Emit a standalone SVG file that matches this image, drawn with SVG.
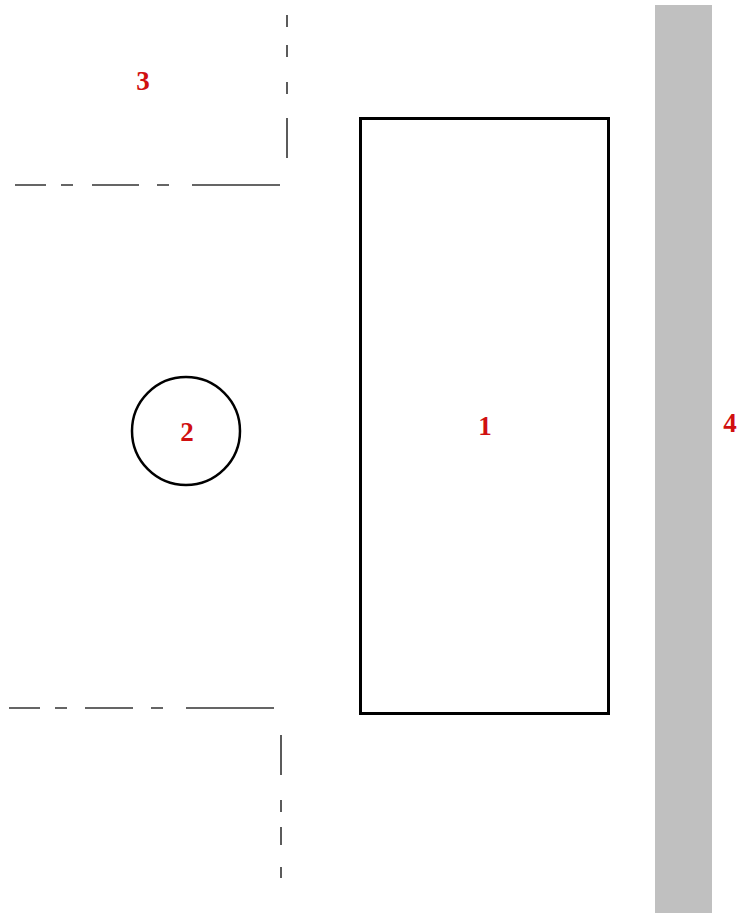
<svg xmlns="http://www.w3.org/2000/svg" width="738" height="913" viewBox="0 0 738 913">
<style>
.lbl{font-family:"Liberation Serif",serif;font-weight:bold;font-size:27px;fill:#d01010;text-anchor:middle}
.cl{stroke:#333;stroke-width:1.6;fill:none}
</style>
<rect width="738" height="913" fill="#fff"/>
<g id="node4"><rect x="655" y="5" width="57" height="908" fill="#c0c0c0"/><text class="lbl" x="730" y="432">4</text></g>
<g id="connectors">
<path class="cl" d="M15 185H46M61 185H73M92 185H139M157 185H169M192 185H280"/>
<path class="cl" d="M287 15V27M287 45V57M287 82V94M287 118V158"/>
<path class="cl" d="M9 708H40M55 708H67M85 708H133M151 708H163M186 708H274"/>
<path class="cl" d="M281 735V775M281 800V812M281 827V845M281 867V878"/>
</g>
<g id="node3"><text class="lbl" x="143" y="90">3</text></g>
<g id="node1"><rect x="360.5" y="118.5" width="248" height="595" fill="none" stroke="#000" stroke-width="3"/><text class="lbl" x="485" y="435">1</text></g>
<g id="node2"><circle cx="186" cy="431" r="54" fill="none" stroke="#000" stroke-width="2.5"/><text class="lbl" x="187" y="441">2</text></g>
</svg>
